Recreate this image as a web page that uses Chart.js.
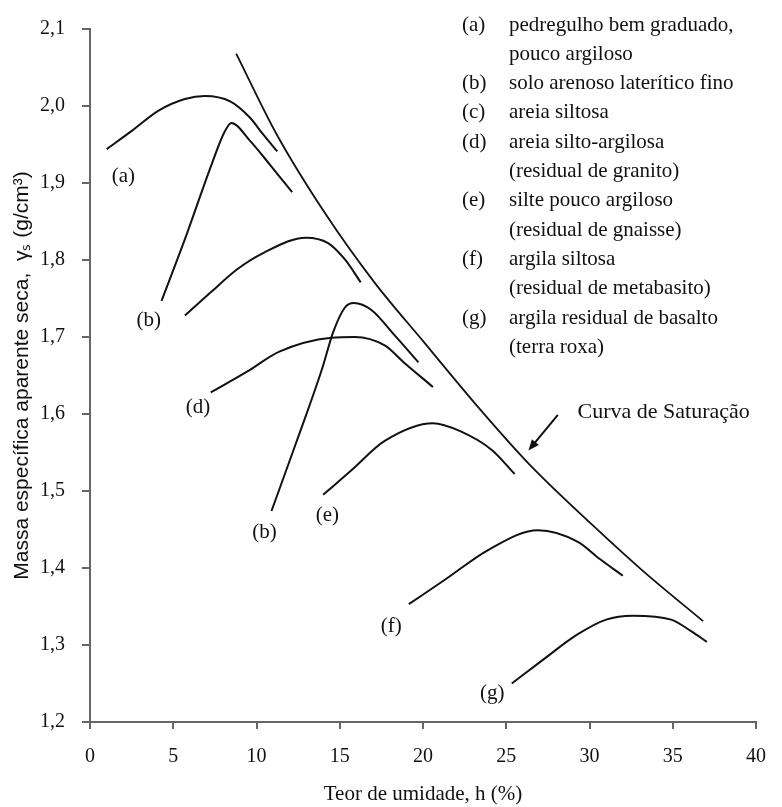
<!DOCTYPE html>
<html>
<head>
<meta charset="utf-8">
<script src="https://cdn.jsdelivr.net/npm/chart.js@4.4.0/dist/chart.umd.min.js"></script>
<style>
  html, body { margin: 0; padding: 0; background: #fff; }
  #wrap { width: 782px; height: 807px; }
</style>
</head>
<body>
<div id="wrap"><canvas id="c" width="782" height="807"></canvas></div>
<script>
// ---- Data (x = teor de umidade %, y = massa específica g/cm³) ----
const satX = [8.78, 11.19, 14.14, 17.08, 20.03, 23.39, 26.33, 30.22, 33.17, 36.82];
const satY = [2.068, 1.964, 1.860, 1.771, 1.694, 1.607, 1.536, 1.455, 1.397, 1.331];

const aX = [1.0, 2.53, 4.12, 5.7, 6.9, 8.42, 9.6, 10.4, 11.25];
const aY = [1.944, 1.968, 1.994, 2.009, 2.013, 2.006, 1.985, 1.963, 1.941];

const b1X = [4.3, 5.7, 7.25, 8.07, 8.5, 9.6, 10.8, 12.14];
const b1Y = [1.747, 1.827, 1.921, 1.966, 1.978, 1.955, 1.924, 1.888];

const cX = [5.7, 7.25, 8.84, 10.4, 12.96, 14.3, 15.3, 16.26];
const cY = [1.728, 1.758, 1.788, 1.809, 1.829, 1.822, 1.801, 1.771];

const dX = [7.25, 9.43, 11.37, 14.5, 15.9, 17.7, 18.85, 20.6];
const dY = [1.628, 1.655, 1.681, 1.699, 1.700, 1.689, 1.667, 1.635];

const b2X = [10.9, 12.37, 13.96, 14.6, 15.3, 15.85, 16.9, 18.26, 19.73];
const b2Y = [1.474, 1.562, 1.660, 1.706, 1.738, 1.744, 1.735, 1.703, 1.667];

const eX = [14.0, 15.7, 17.7, 20.6, 22.2, 24.15, 25.5];
const eY = [1.495, 1.527, 1.565, 1.588, 1.578, 1.553, 1.522];

const fX = [19.15, 21.4, 23.96, 26.9, 29.3, 30.6, 32.0];
const fY = [1.353, 1.386, 1.424, 1.449, 1.434, 1.412, 1.390];

const gX = [25.33, 27.1, 29.3, 31.0, 32.6, 34.9, 36.1, 37.05];
const gY = [1.250, 1.279, 1.314, 1.333, 1.338, 1.333, 1.318, 1.304];

const curveLabels = ['(a)', '(b)', '(d)', '(b)', '(e)', '(f)', '(g)'];
const curveLabelX = [2.0, 3.53, 6.48, 10.48, 14.26, 18.09, 24.16];
const curveLabelY = [1.908, 1.722, 1.609, 1.446, 1.468, 1.324, 1.237];

const legendKeys = ['(a)', '', '(b)', '(c)', '(d)', '', '(e)', '', '(f)', '', '(g)', ''];
const legendTexts = [
  'pedregulho bem graduado,', 'pouco argiloso',
  'solo arenoso laterítico fino',
  'areia siltosa',
  'areia silto-argilosa', '(residual de granito)',
  'silte pouco argiloso', '(residual de gnaisse)',
  'argila siltosa', '(residual de metabasito)',
  'argila residual de basalto', '(terra roxa)'
];

const satLabel = 'Curva de Saturação';
const xTicksStep = 5;
const yTicksStep = 0.1;

// ---- build datasets ----
function pts(xs, ys) { return xs.map((x, i) => ({ x: x, y: ys[i] })); }
const series = [
  pts(satX, satY), pts(aX, aY), pts(b1X, b1Y), pts(cX, cY), pts(dX, dY),
  pts(b2X, b2Y), pts(eX, eY), pts(fX, fY), pts(gX, gY)
];
const datasets = series.map((d, i) => ({
  data: d,
  borderColor: '#111',
  borderWidth: i === 0 ? 1.8 : 2,
  pointRadius: 0,
  fill: false,
  cubicInterpolationMode: 'monotone'
}));

const SERIF = '"Liberation Serif", "Times New Roman", serif';
const SANS = '"Liberation Sans", Arial, sans-serif';

const annot = {
  id: 'annot',
  afterDatasetsDraw(chart) {
    const ctx = chart.ctx;
    const xs = chart.scales.x, ys = chart.scales.y;
    ctx.save();
    ctx.fillStyle = '#111';
    ctx.textBaseline = 'middle';
    // curve labels
    ctx.font = '21px ' + SERIF;
    ctx.textAlign = 'center';
    curveLabels.forEach((t, i) => {
      ctx.fillText(t, xs.getPixelForValue(curveLabelX[i]), ys.getPixelForValue(curveLabelY[i]));
    });
    // legend
    ctx.textAlign = 'left';
    ctx.font = '21px ' + SERIF;
    const lx0 = 462, lx1 = 509, ly0 = 25, lstep = 29.3;
    legendTexts.forEach((t, i) => {
      const y = ly0 + i * lstep;
      if (legendKeys[i]) ctx.fillText(legendKeys[i], lx0, y);
      ctx.fillText(t, lx1, y);
    });
    // saturation label + arrow
    ctx.font = '22px ' + SERIF;
    ctx.fillText(satLabel, xs.getPixelForValue(29.28), ys.getPixelForValue(1.6026));
    const tx = xs.getPixelForValue(28.1), ty = ys.getPixelForValue(1.599);
    const hx = xs.getPixelForValue(26.33), hy = ys.getPixelForValue(1.5526);
    const ang = Math.atan2(hy - ty, hx - tx);
    ctx.strokeStyle = '#111';
    ctx.lineWidth = 2;
    ctx.beginPath();
    ctx.moveTo(tx, ty);
    ctx.lineTo(hx - 8 * Math.cos(ang), hy - 8 * Math.sin(ang));
    ctx.stroke();
    ctx.beginPath();
    ctx.moveTo(hx, hy);
    ctx.lineTo(hx - 11 * Math.cos(ang) + 4.5 * Math.sin(ang), hy - 11 * Math.sin(ang) - 4.5 * Math.cos(ang));
    ctx.lineTo(hx - 11 * Math.cos(ang) - 4.5 * Math.sin(ang), hy - 11 * Math.sin(ang) + 4.5 * Math.cos(ang));
    ctx.closePath();
    ctx.fill();
    ctx.restore();
  }
};

new Chart(document.getElementById('c'), {
  type: 'line',
  data: { datasets: datasets },
  options: {
    responsive: false,
    animation: false,
    events: [],
    layout: { padding: { top: 20, right: 13, left: 0, bottom: 0 } },
    plugins: { legend: { display: false }, tooltip: { enabled: false } },
    scales: {
      x: {
        type: 'linear', min: 0, max: 40,
        afterFit(s) { s.height = 85; },
        ticks: { stepSize: xTicksStep, color: '#111', padding: 16, font: { family: SERIF, size: 20 } },
        grid: { drawOnChartArea: false, drawTicks: true, tickLength: 7, color: '#666', lineWidth: 2 },
        border: { display: true, color: '#666', width: 2 },
        title: { display: true, text: 'Teor de umidade, h (%)', color: '#111',
                 font: { family: SERIF, size: 21 }, padding: { top: 0, bottom: 0 } }
      },
      y: {
        type: 'linear', min: 1.2, max: 2.1,
        afterFit(s) { s.width = 90; },
        ticks: { stepSize: yTicksStep, color: '#111', padding: 17, font: { family: SERIF, size: 20 },
                 callback: v => v.toFixed(1).replace('.', ',') },
        grid: { drawOnChartArea: false, drawTicks: true, tickLength: 8, color: '#666', lineWidth: 2 },
        border: { display: true, color: '#666', width: 2 },
        title: { display: true, text: 'Massa específica aparente seca,  γₛ (g/cm³)', color: '#111',
                 font: { family: SANS, size: 21 }, padding: { top: 10, bottom: 0 } }
      }
    }
  },
  plugins: [annot]
});
</script>
</body>
</html>
